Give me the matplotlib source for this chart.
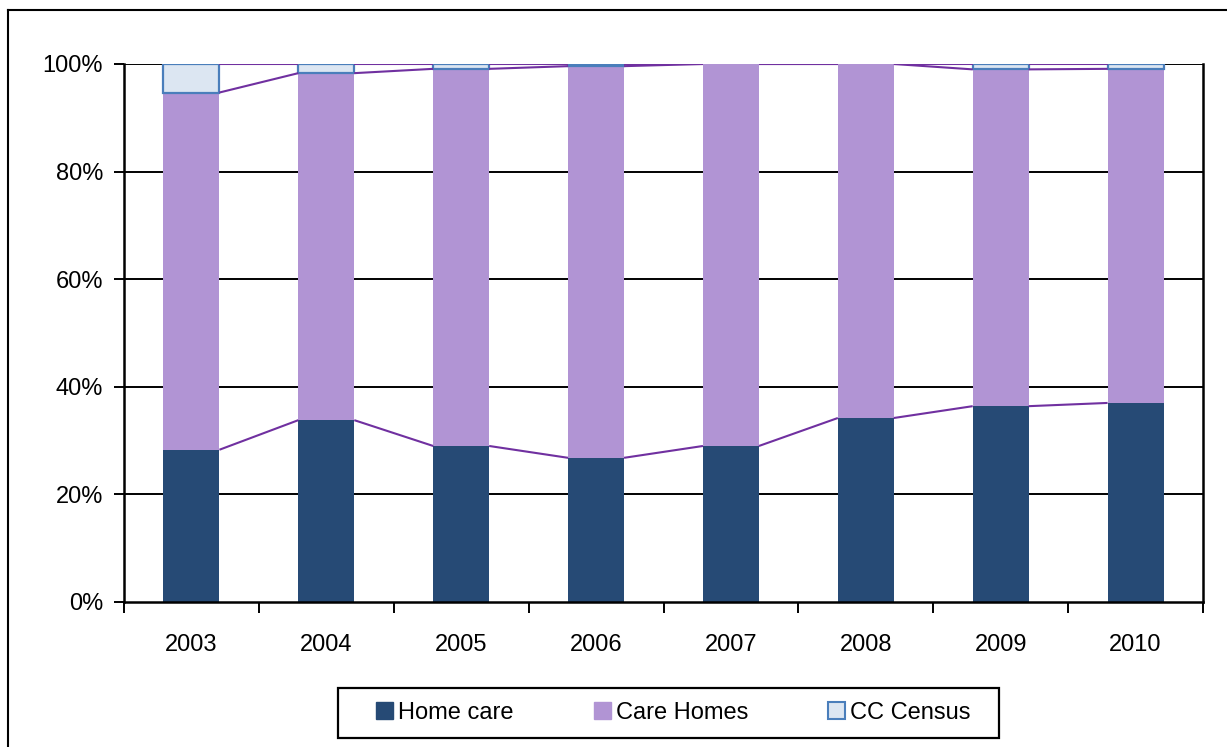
import matplotlib
matplotlib.use("Agg")
import matplotlib.pyplot as plt
from matplotlib.patches import Patch, Rectangle
from matplotlib.lines import Line2D

years = ['2003', '2004', '2005', '2006', '2007', '2008', '2009', '2010']
home_care = [28.3, 33.8, 29.0, 26.8, 29.0, 34.2, 36.4, 37.0]
care_homes = [66.4, 64.5, 70.1, 72.8, 71.0, 65.8, 62.6, 62.1]
cc_census = [5.3, 1.7, 0.9, 0.4, 0.0, 0.0, 1.0, 0.9]
y_ticks = [0, 20, 40, 60, 80, 100]
y_labels = ['0%', '20%', '40%', '60%', '80%', '100%']

c_home = '#264A75'
c_care = '#B194D4'
c_cc_fill = '#DCE6F2'
c_cc_edge = '#4A7EBB'
c_line = '#7030A0'

plt.rcParams['font.family'] = ['Liberation Sans', 'DejaVu Sans']

W, H = 1227, 747
fig = plt.figure(figsize=(W/100, H/100), dpi=100)
ax = fig.add_axes([124/W, (H-602)/H, (1203-124)/W, (602-64)/H])

x = list(range(len(years)))
w = 0.415
ax.bar(x, home_care, width=w, color=c_home, zorder=3, linewidth=0)
ax.bar(x, care_homes, width=w, bottom=home_care, color=c_care, zorder=3, linewidth=0)
bot2 = [a + b for a, b in zip(home_care, care_homes)]
for i in x:
    if cc_census[i] > 0:
        ax.bar(i, cc_census[i], width=w, bottom=bot2[i], facecolor=c_cc_fill,
               edgecolor=c_cc_edge, linewidth=1.6, zorder=3)

# series lines (Excel style) joining bar tops
tops = [home_care, bot2, [a + b for a, b in zip(bot2, cc_census)]]
for level in tops:
    for i in range(len(years) - 1):
        ax.plot([i + w/2, i + 1 - w/2], [level[i], level[i + 1]], color=c_line,
                lw=1.5, zorder=4, solid_capstyle='butt')

ax.set_xlim(-0.5, len(years) - 0.5)
ax.set_ylim(0, 100)
ax.set_yticks(y_ticks)
ax.set_yticklabels(y_labels)
for yv in y_ticks[1:]:
    ax.axhline(yv, color='black', lw=1.4, zorder=1)
ax.set_xticks([i + 0.5 for i in range(-1, len(years))], minor=False)
ax.set_xticklabels([])
ax.set_xticks(x, minor=True)
ax.set_xticklabels(years, minor=True)
ax.tick_params(axis='x', which='major', direction='out', length=8, width=1.4, color='black')
ax.tick_params(axis='x', which='minor', length=0, pad=23, labelsize=17)
ax.tick_params(axis='y', direction='out', length=7, width=1.4, labelsize=17, pad=8)
for s in ['left', 'bottom', 'right']:
    ax.spines[s].set_linewidth(1.8)
    ax.spines[s].set_color('black')
ax.spines['top'].set_visible(False)
ax.spines['bottom'].set_zorder(5)

handles = [Patch(facecolor=c_home, edgecolor=c_home),
           Patch(facecolor=c_care, edgecolor=c_care),
           Patch(facecolor=c_cc_fill, edgecolor=c_cc_edge, linewidth=1.5)]
leg = fig.legend(handles, ['Home care', 'Care Homes', 'CC Census'], loc='center',
                 bbox_to_anchor=((382+965)/2/W, (H-713)/H), ncol=3,
                 frameon=False, fontsize=17,
                 handlelength=0.72, handleheight=0.72, handletextpad=0.2,
                 columnspacing=3.4, borderpad=0, borderaxespad=0)
# legend box
fig.add_artist(Rectangle((338/W, (H-738)/H), (999-338)/W, 50/H, transform=fig.transFigure,
                         fill=False, edgecolor='black', linewidth=1.6))

# outer chart border
fig.add_artist(Line2D([8/W, 1], [1 - 10/H, 1 - 10/H], color='black', lw=1.5,
                      transform=fig.transFigure))
fig.add_artist(Line2D([8/W, 8/W], [0, 1 - 10/H], color='black', lw=1.5,
                      transform=fig.transFigure))

fig.savefig('out.png', dpi=100)
